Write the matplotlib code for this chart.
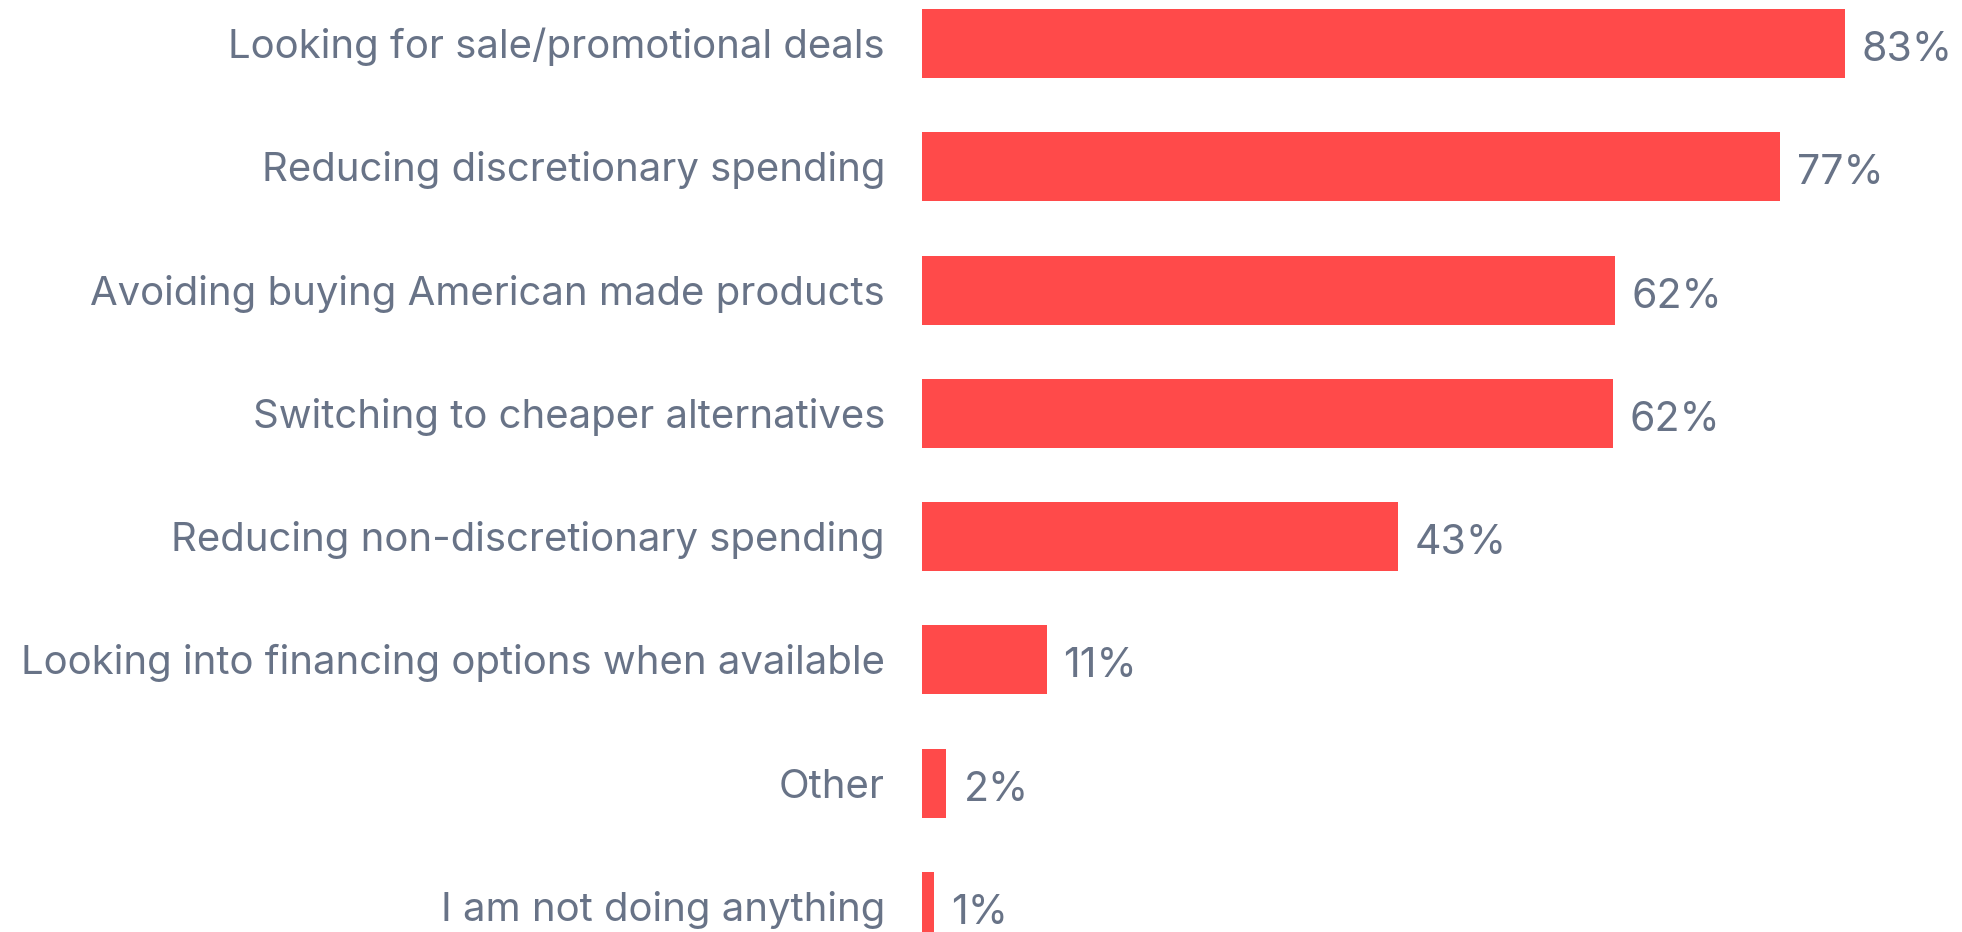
import matplotlib
matplotlib.use("Agg")
import matplotlib.pyplot as plt

plt.rcParams['font.family'] = ['Inter', 'DejaVu Sans']

categories = [
    'Looking for sale/promotional deals',
    'Reducing discretionary spending',
    'Avoiding buying American made products',
    'Switching to cheaper alternatives',
    'Reducing non-discretionary spending',
    'Looking into financing options when available',
    'Other',
    'I am not doing anything',
]
values = [83.0, 77.2, 62.3, 62.1, 42.8, 11.2, 2.2, 1.1]

bar_color = '#FF4A4A'
text_color = '#687387'

W, H = 1962, 932
px_per_pct = 11.12
px_per_row = 123.3
fig = plt.figure(figsize=(W / 100, H / 100), dpi=100)
ax = fig.add_axes([922 / W, 0, (W - 922) / W, 1])

ypos = list(range(len(categories)))
ax.barh(ypos, values, height=0.56, color=bar_color)

# value labels, baseline a bit below bar centre
for y, v in zip(ypos, values):
    ax.text(v + 17 / px_per_pct, y + 17.5 / px_per_row, f'{round(v)}%',
            va='baseline', ha='left', fontsize=29.5, color=text_color)

# category labels right-aligned left of the bars
for y, c in zip(ypos, categories):
    ax.text(-37 / px_per_pct, y + 14.5 / px_per_row, c, va='baseline',
            ha='right', fontsize=28.9, color=text_color, clip_on=False)

ax.set_xticks([])
ax.set_yticks([])
ax.set_xlim(0, (W - 922) / px_per_pct)
ax.set_ylim(7.207, -0.353)
for s in ax.spines.values():
    s.set_visible(False)

fig.savefig('out.png', dpi=100)
